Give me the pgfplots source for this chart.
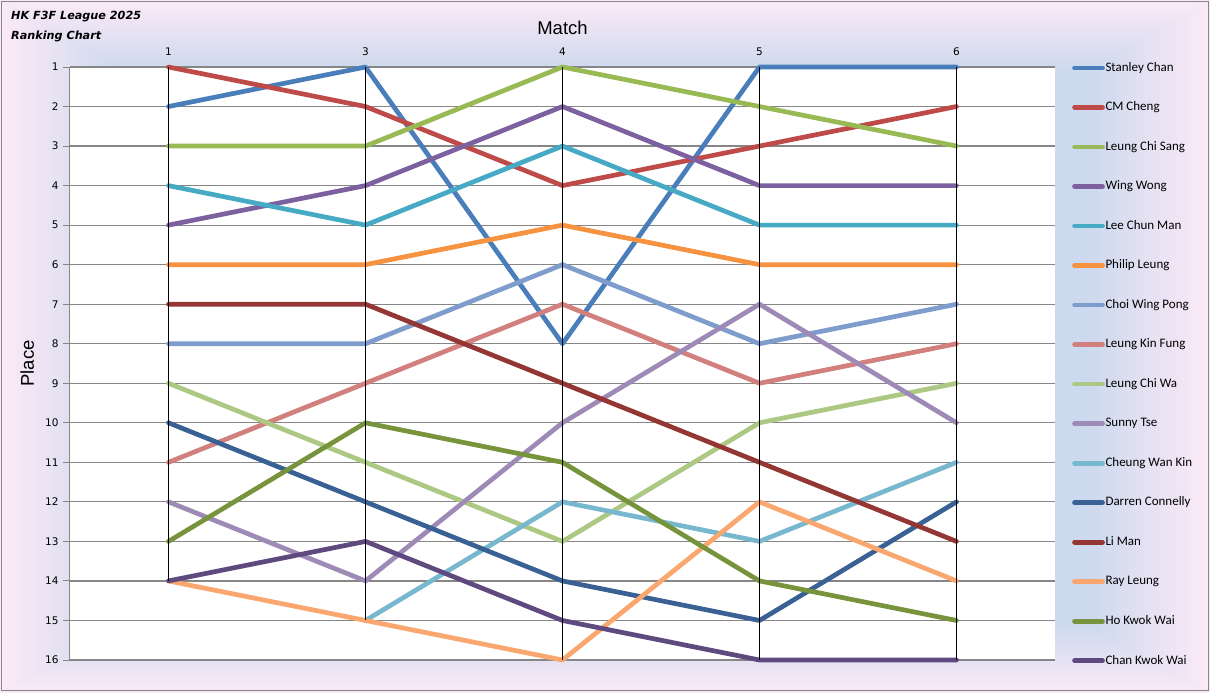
\documentclass[border=0pt]{standalone}
\usepackage{pgfplots}
\pgfplotsset{compat=1.18}
\usepackage{fontspec}
\setmainfont{Carlito}
\newfontfamily\labelfont{Liberation Sans}
\newfontfamily\tickfont{DejaVu Sans}

\definecolor{bgblue}{RGB}{205,217,238}
\definecolor{bgpink}{RGB}{252,234,247}
\definecolor{gridgray}{RGB}{134,134,134}
\definecolor{cA}{RGB}{74,126,187}
\definecolor{cB}{RGB}{190,75,72}
\definecolor{cC}{RGB}{152,185,84}
\definecolor{cD}{RGB}{125,96,160}
\definecolor{cE}{RGB}{70,170,197}
\definecolor{cF}{RGB}{246,146,64}
\definecolor{cG}{RGB}{126,156,204}
\definecolor{cH}{RGB}{210,128,126}
\definecolor{cI}{RGB}{172,200,130}
\definecolor{cJ}{RGB}{158,138,182}
\definecolor{cK}{RGB}{120,184,207}
\definecolor{cL}{RGB}{58,97,147}
\definecolor{cM}{RGB}{148,54,52}
\definecolor{cN}{RGB}{249,166,111}
\definecolor{cO}{RGB}{119,147,60}
\definecolor{cP}{RGB}{94,74,126}

\pgfplotsset{rank/.style={line width=4.7pt, line join=round, line cap=round}}

\begin{document}
\begin{tikzpicture}
\useasboundingbox (0,0) rectangle (1210pt,693pt);
% background: blue in the middle, pink towards the edges
\fill[bgblue] (0,0) rectangle (1210pt,693pt);
\shade[top color=bgpink, bottom color=bgblue] (0,693pt) -- (1210pt,693pt) -- (1089pt,623.7pt) -- (121pt,623.7pt) -- cycle;
\shade[top color=bgblue, bottom color=bgpink] (0,0) -- (1210pt,0) -- (1089pt,69.3pt) -- (121pt,69.3pt) -- cycle;
\shade[left color=bgpink, right color=bgblue] (0,0) -- (0,693pt) -- (121pt,623.7pt) -- (121pt,69.3pt) -- cycle;
\shade[left color=bgblue, right color=bgpink] (1210pt,0) -- (1210pt,693pt) -- (1089pt,623.7pt) -- (1089pt,69.3pt) -- cycle;
\draw[gridgray, line width=1pt] (1.5pt,2pt) rectangle (1208.5pt,691.3pt);

\node[anchor=base west, inner sep=0pt, font=\tickfont\bfseries\itshape\fontsize{11.2}{13}\selectfont] at (11pt,673pt) {HK F3F League 2025};
\node[anchor=base west, inner sep=0pt, font=\tickfont\bfseries\itshape\fontsize{11.2}{13}\selectfont] at (11pt,653pt) {Ranking Chart};

\begin{axis}[
  at={(70pt,33pt)}, anchor=south west,
  width=985pt, height=593pt, scale only axis,
  xmin=-0.5, xmax=4.5, ymin=1, ymax=16, y dir=reverse,
  axis x line*=top, axis y line*=left,
  axis line style={draw=gridgray, line width=1pt, -},
  axis background/.style={fill=white},
  xtick={0,...,4}, xticklabels={1,3,4,5,6},
  ytick={1,...,16},
  x tick style={draw=none},
  y tick style={draw=gridgray, line width=1pt},
  tick align=outside, major tick length=7pt,
  ymajorgrids, grid style={draw=gridgray, line width=1.2pt},
  ticklabel style={font=\tickfont\fontsize{10.5}{12}\selectfont},
  yticklabel style={xshift=-1pt},
  xticklabel style={yshift=1pt},
  /pgf/number format/assume math mode=true,
  xlabel={Match}, ylabel={Place},
  xlabel style={font=\labelfont\fontsize{18.5}{20}\selectfont, at={([yshift=32pt]axis description cs:0.5,1)}, anchor=base},
  ylabel style={font=\labelfont\fontsize{18.5}{20}\selectfont, at={([xshift=-36pt]axis description cs:0,0.5)}, anchor=base},
  clip=false,
  legend cell align=left,
  legend style={draw=none, fill=none, at={(1,1)}, anchor=north west, xshift=17pt, yshift=6.2pt,
    inner sep=0pt, row sep=25.83pt, font=\fontsize{13}{15}\selectfont,
    nodes={inner sep=0.6pt, text height=9.5pt, text depth=3pt}},
  legend image code/.code={\draw[#1, line width=4.7pt, line cap=round] (0pt,0pt) -- (28pt,0pt);},
]
\addplot[rank, cA] coordinates {(0,2) (1,1) (2,8) (3,1) (4,1)};
\addlegendentry{Stanley Chan}
\addplot[rank, cB] coordinates {(0,1) (1,2) (2,4) (3,3) (4,2)};
\addlegendentry{CM Cheng}
\addplot[rank, cC] coordinates {(0,3) (1,3) (2,1) (3,2) (4,3)};
\addlegendentry{Leung Chi Sang}
\addplot[rank, cD] coordinates {(0,5) (1,4) (2,2) (3,4) (4,4)};
\addlegendentry{Wing Wong}
\addplot[rank, cE] coordinates {(0,4) (1,5) (2,3) (3,5) (4,5)};
\addlegendentry{Lee Chun Man}
\addplot[rank, cF] coordinates {(0,6) (1,6) (2,5) (3,6) (4,6)};
\addlegendentry{Philip Leung}
\addplot[rank, cG] coordinates {(0,8) (1,8) (2,6) (3,8) (4,7)};
\addlegendentry{Choi Wing Pong}
\addplot[rank, cH] coordinates {(0,11) (1,9) (2,7) (3,9) (4,8)};
\addlegendentry{Leung Kin Fung}
\addplot[rank, cI] coordinates {(0,9) (1,11) (2,13) (3,10) (4,9)};
\addlegendentry{Leung Chi Wa}
\addplot[rank, cJ] coordinates {(0,12) (1,14) (2,10) (3,7) (4,10)};
\addlegendentry{Sunny Tse}
\addplot[rank, cK] coordinates {(1,15) (2,12) (3,13) (4,11)};
\addlegendentry{Cheung Wan Kin}
\addplot[rank, cL] coordinates {(0,10) (1,12) (2,14) (3,15) (4,12)};
\addlegendentry{Darren Connelly}
\addplot[rank, cM] coordinates {(0,7) (1,7) (2,9) (3,11) (4,13)};
\addlegendentry{Li Man}
\addplot[rank, cN] coordinates {(0,14) (1,15) (2,16) (3,12) (4,14)};
\addlegendentry{Ray Leung}
\addplot[rank, cO] coordinates {(0,13) (1,10) (2,11) (3,14) (4,15)};
\addlegendentry{Ho Kwok Wai}
\addplot[rank, cP] coordinates {(0,14) (1,13) (2,15) (3,16) (4,16)};
\addlegendentry{Chan Kwok Wai}
% high-low lines at each match
\addplot[black, line width=1pt, forget plot, unbounded coords=jump] coordinates {(0,1) (0,14) (0,nan) (1,1) (1,15) (1,nan) (2,1) (2,16) (2,nan) (3,1) (3,16) (3,nan) (4,1) (4,16)};
\end{axis}
\end{tikzpicture}
\end{document}
